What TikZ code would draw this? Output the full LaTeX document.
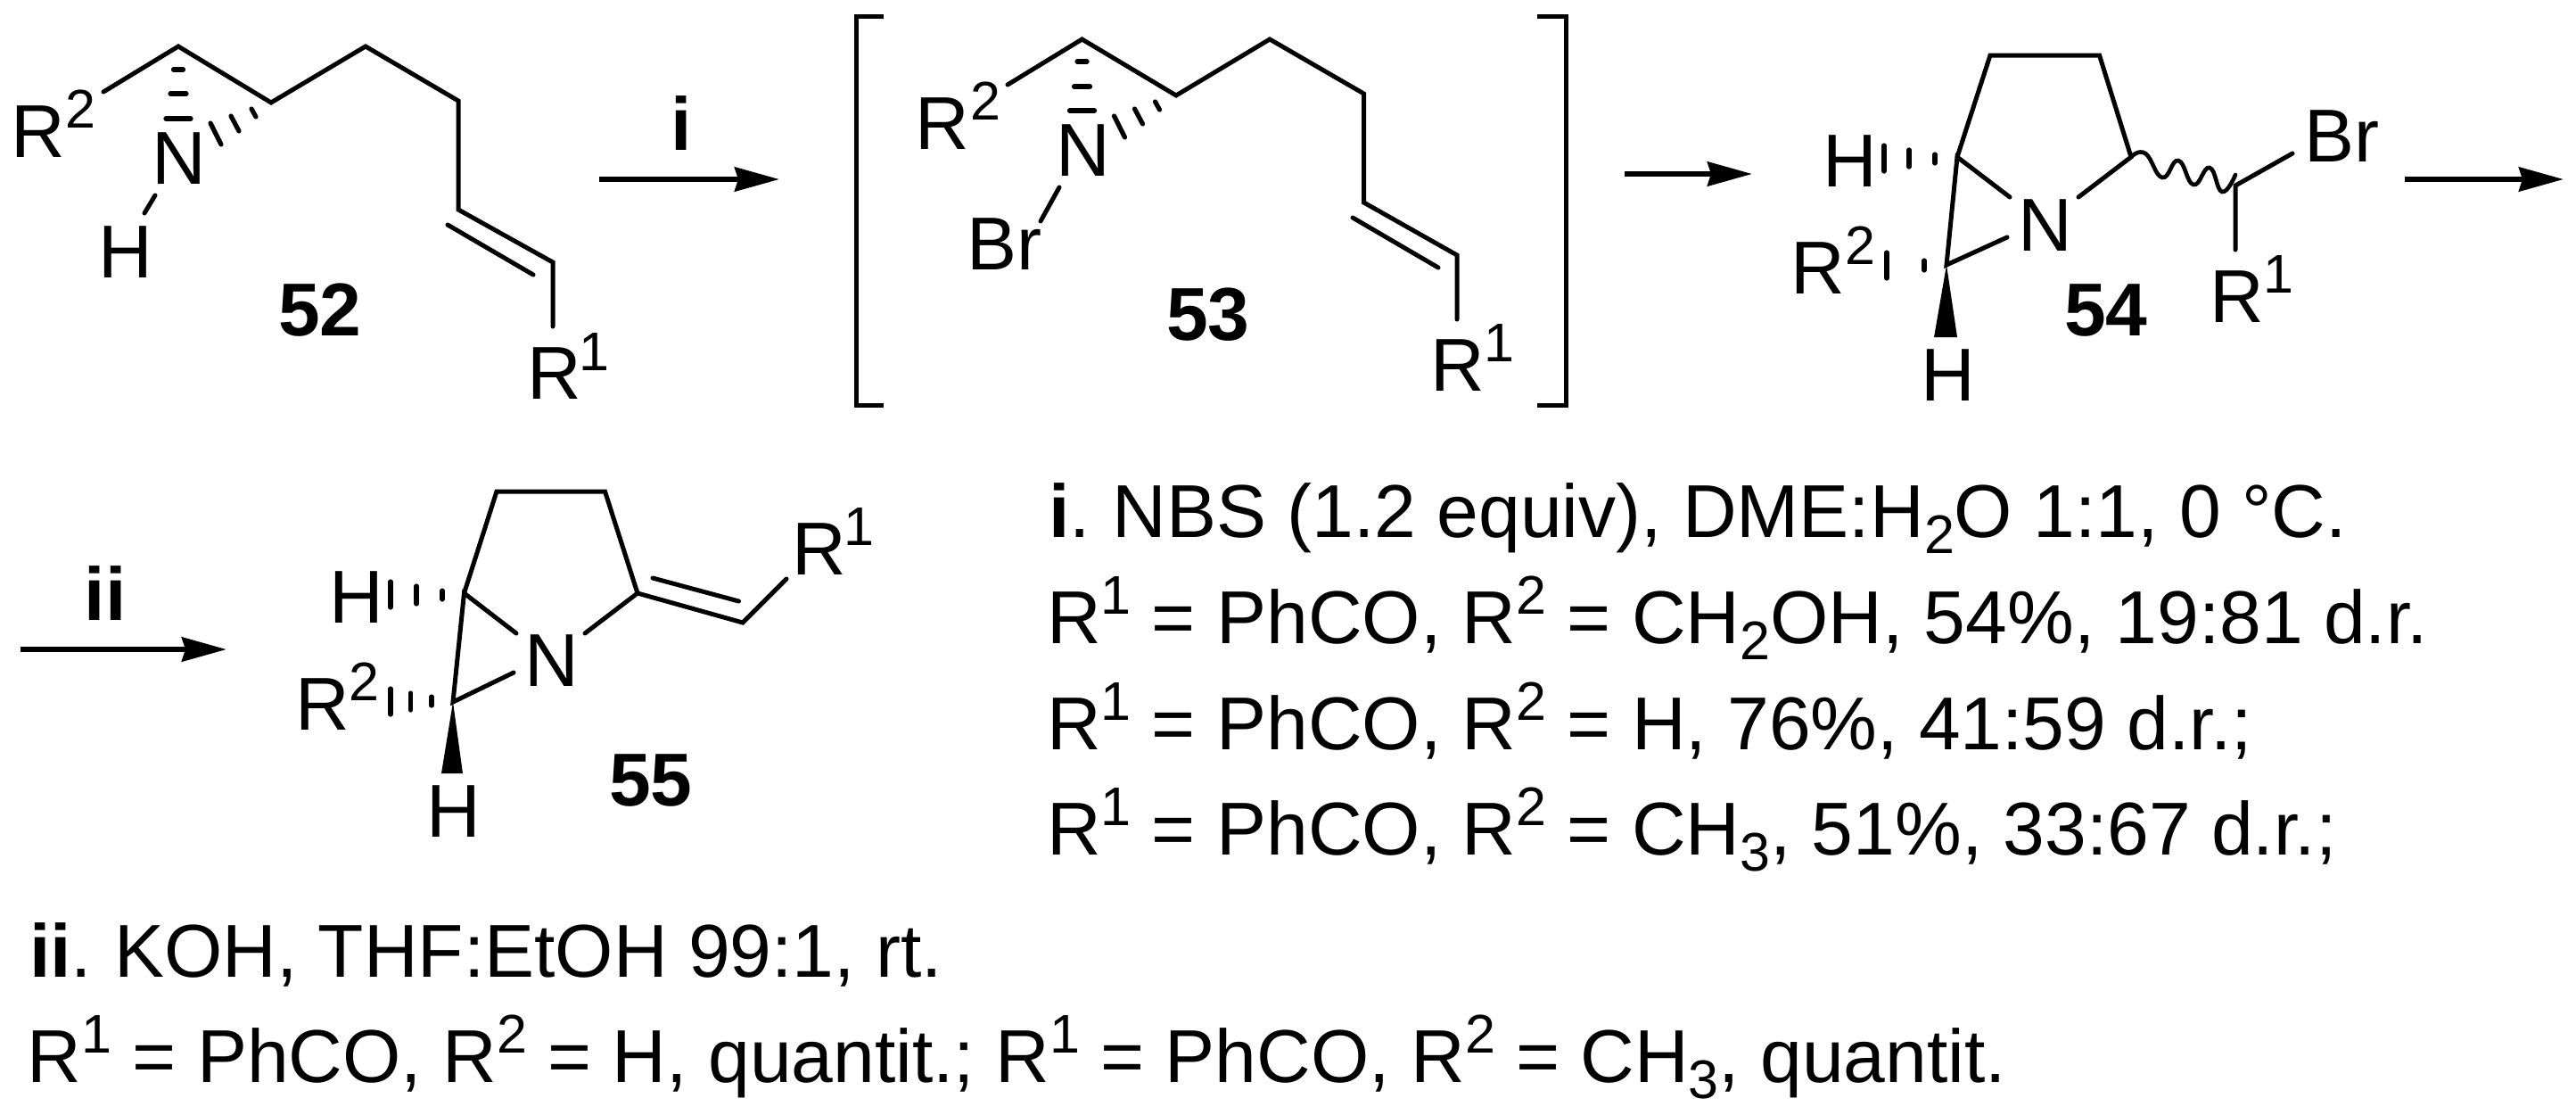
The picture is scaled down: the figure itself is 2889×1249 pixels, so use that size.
\documentclass[tikz,border=0pt]{standalone}
\usepackage{fontspec}
\setmainfont{Liberation Sans}
\usetikzlibrary{arrows.meta}
\newcommand{\Sp}[1]{\raisebox{16.5pt}{\fontsize{30.5}{30}\selectfont #1}}
\newcommand{\Sb}[1]{\raisebox{-9pt}{\fontsize{30.5}{30}\selectfont #1}}
\tikzset{
  lbl/.style={inner sep=0pt,outer sep=0pt,anchor=base west,font=\fontsize{42}{50}\selectfont},
  nmb/.style={lbl,font=\fontsize{42}{50}\selectfont\bfseries},
  supr/.style={lbl,font=\fontsize{30.5}{30}\selectfont},
  txt/.style={lbl},
  bond/.style={line width=2.5pt,line cap=round,line join=miter,miter limit=10},
  hash/.style={line width=2.6pt,line cap=round},
  brk/.style={line width=2.5pt,line cap=butt,line join=miter},
  rxn/.style={line width=3pt,-{Stealth[length=25pt,width=13.5pt,inset=2pt]}},
  wedge/.style={fill=black,draw=none}
}
\begin{document}
\begin{tikzpicture}[x=0.5pt,y=-0.5pt]
\useasboundingbox[fill=white] (0,0) rectangle (2889,1249);
% ---------- 52
\coordinate (a1) at (116,103); \coordinate (a2) at (200,52); \coordinate (a3) at (304,115);
\coordinate (a4) at (410,52); \coordinate (a5) at (514,113); \coordinate (a6) at (514,235);
\coordinate (a7) at (620,294); \coordinate (a8) at (620,366);
\coordinate (a9) at (502,252); \coordinate (a10) at (598,308);
\coordinate (a11) at (174,219); \coordinate (a12) at (162,239);
\draw[bond] (a1)--(a2)--(a3)--(a4)--(a5)--(a6)--(a7)--(a8);
\draw[bond] (a9)--(a10);
\draw[bond] (a11)--(a12);
\draw[hash] (194.5,78)--(205.5,78) (191,105)--(209,105) (186,133)--(214,133);
\draw[hash] (282,122)--(287,131) (259,130)--(268,147) (236,138)--(248,162);
\node[lbl] (r2a) at (12,176) {R};
\node[supr] (r2as) at (73,143) {2};
\node[lbl] (na) at (170,206) {N};
\node[lbl] (ha) at (110,311) {H};
\node[nmb] (n52) at (312,376) {52};
\node[lbl] (r1a) at (591,447) {R};
\node[supr] (r1as) at (649,415) {1};
% arrow i
\coordinate (ar1s) at (672,201); \coordinate (ar1e) at (874,201);
\draw[rxn] (ar1s)--(ar1e);
\node[nmb,anchor=base] (lbi) at (764,168) {i};
% ---------- brackets
\coordinate (bl1) at (991,18); \coordinate (bl2) at (960,18); \coordinate (bl3) at (960,454); \coordinate (bl4) at (991,454);
\coordinate (br1) at (1724,18); \coordinate (br2) at (1756,18); \coordinate (br3) at (1756,454); \coordinate (br4) at (1724,454);
\draw[brk] (bl1)--(bl2)--(bl3)--(bl4);
\draw[brk] (br1)--(br2)--(br3)--(br4);
% ---------- 53
\coordinate (b1) at (1130,95); \coordinate (b2) at (1213.5,44); \coordinate (b3) at (1319,107);
\coordinate (b4) at (1424,44); \coordinate (b5) at (1529.5,105); \coordinate (b6) at (1529.5,227);
\coordinate (b7) at (1634,286); \coordinate (b8) at (1634,358);
\coordinate (b9) at (1517,244); \coordinate (b10) at (1613,300);
\coordinate (b11) at (1188,210); \coordinate (b12) at (1167,248);
\draw[bond] (b1)--(b2)--(b3)--(b4)--(b5)--(b6)--(b7)--(b8);
\draw[bond] (b9)--(b10);
\draw[bond] (b11)--(b12);
\draw[hash] (1208,69)--(1219,69) (1204.5,97)--(1222.5,97) (1199.5,124)--(1227.5,124);
\draw[hash] (1295.5,114)--(1300.5,123) (1272.5,122)--(1281.5,139) (1249.5,130)--(1261.5,154);
\node[lbl] (r2b) at (1026,167) {R};
\node[supr] (r2bs) at (1088,134) {2};
\node[lbl] (nb) at (1184,197) {N};
\node[lbl] (brb) at (1084,302) {Br};
\node[nmb] (n53) at (1308,381) {53};
\node[lbl] (r1b) at (1604,438) {R};
\node[supr] (r1bs) at (1664,405) {1};
% arrow 2
\coordinate (ar2s) at (1822,195); \coordinate (ar2e) at (1965,195);
\draw[rxn] (ar2s)--(ar2e);
% ---------- 54
\coordinate (c1) at (2232,62); \coordinate (c2) at (2354.5,62); \coordinate (c3) at (2390,176);
\coordinate (c4) at (2331,221); \coordinate (c5) at (2195,176); \coordinate (c6) at (2254,221);
\coordinate (c7) at (2183,297); \coordinate (c8) at (2251,266);
\coordinate (c9) at (2507,208); \coordinate (c10) at (2571,172); \coordinate (c11) at (2507,280);
\coordinate (c12) at (2169,378); \coordinate (c13) at (2195,378);
\draw[bond] (c5)--(c1)--(c2)--(c3)--(c4);
\draw[bond] (c6)--(c5)--(c7)--(c8);
\draw[bond] (c10)--(c9)--(c11);
\draw[line width=2.3pt,line cap=round] plot[smooth,tension=0.8] coordinates {(2390,176) (2406,172) (2425,199) (2443,180) (2460,207) (2478,188) (2492,215) (2507,196)};
\fill[wedge] (c7)--(c12)--(c13)--cycle;
\draw[hash] (2113,163)--(2113,192) (2141,168)--(2141,187) (2170,173)--(2170,183);
\draw[hash] (2116,283)--(2116,312) (2158,292)--(2158,303);
\node[lbl] (hc1) at (2044,209) {H};
\node[lbl] (r2c) at (2008,329) {R};
\node[supr] (r2cs) at (2069,296) {2};
\node[lbl] (nc) at (2263,281) {N};
\node[lbl] (brc) at (2584,181) {Br};
\node[lbl] (r1c) at (2478,361) {R};
\node[supr] (r1cs) at (2538,328) {1};
\node[lbl] (hc2) at (2154,449) {H};
\node[nmb] (n54) at (2315,376) {54};
% arrow 3
\coordinate (ar3s) at (2697,201); \coordinate (ar3e) at (2875,201);
\draw[rxn] (ar3s)--(ar3e);
% ---------- arrow ii
\coordinate (ar4s) at (23,728); \coordinate (ar4e) at (254,728);
\draw[rxn] (ar4s)--(ar4e);
\node[nmb,anchor=base] (lbii) at (118,695) {ii};
% ---------- 55
\coordinate (d1) at (557,551); \coordinate (d2) at (678.5,551); \coordinate (d3) at (715,665);
\coordinate (d4) at (656,710); \coordinate (d5) at (520.5,665); \coordinate (d6) at (579,710);
\coordinate (d7) at (508,787); \coordinate (d8) at (576,754);
\coordinate (d9) at (833,698); \coordinate (d10) at (882,649);
\coordinate (d11) at (732,648); \coordinate (d12) at (828.5,674);
\coordinate (d13) at (495,867); \coordinate (d14) at (519,867);
\draw[bond] (d5)--(d1)--(d2)--(d3)--(d4);
\draw[bond] (d6)--(d5)--(d7)--(d8);
\draw[bond] (d3)--(d9)--(d10);
\draw[bond] (d11)--(d12);
\fill[wedge] (d7)--(d13)--(d14)--cycle;
\draw[hash] (438,652)--(438,681) (467,657)--(467,677) (496,662)--(496,672);
\draw[hash] (438,772)--(438,801) (460.5,777)--(460.5,796) (484,781)--(484,791);
\node[lbl] (hd1) at (369,698) {H};
\node[lbl] (r2d) at (331,818) {R};
\node[supr] (r2ds) at (391,785) {2};
\node[lbl] (nd) at (588,769) {N};
\node[lbl] (hd2) at (478,938) {H};
\node[lbl] (r1d) at (888,644) {R};
\node[supr] (r1ds) at (946,611) {1};
\node[nmb] (n55) at (683,903) {55};
% ---------- conditions
\node[txt] (t1) at (1176,602) {\textbf{i}.\kern-3pt{} NBS (1.2 equiv), DME:H\Sb{2}O 1:1, 0 °C.};
\node[txt] (t2) at (1174,721) {R\Sp{1} = PhCO, R\Sp{2} = CH\Sb{2}OH, 54\%, 19:81 d.r.};
\node[txt] (t3) at (1174,840) {R\Sp{1} = PhCO, R\Sp{2} = H, 76\%, 41:59 d.r.;};
\node[txt] (t4) at (1174,958) {R\Sp{1} = PhCO, R\Sp{2} = CH\Sb{3}, 51\%, 33:67 d.r.;};
\node[txt] (t5) at (33,1095) {\textbf{ii}.\kern-3pt{} KOH, THF:EtOH 99:1, rt.};
\node[txt] (t6) at (31,1213) {R\Sp{1} = PhCO, R\Sp{2} = H, quantit.; R\Sp{1} = PhCO, R\Sp{2} = CH\Sb{3}, quantit.};
\end{tikzpicture}
\end{document}
